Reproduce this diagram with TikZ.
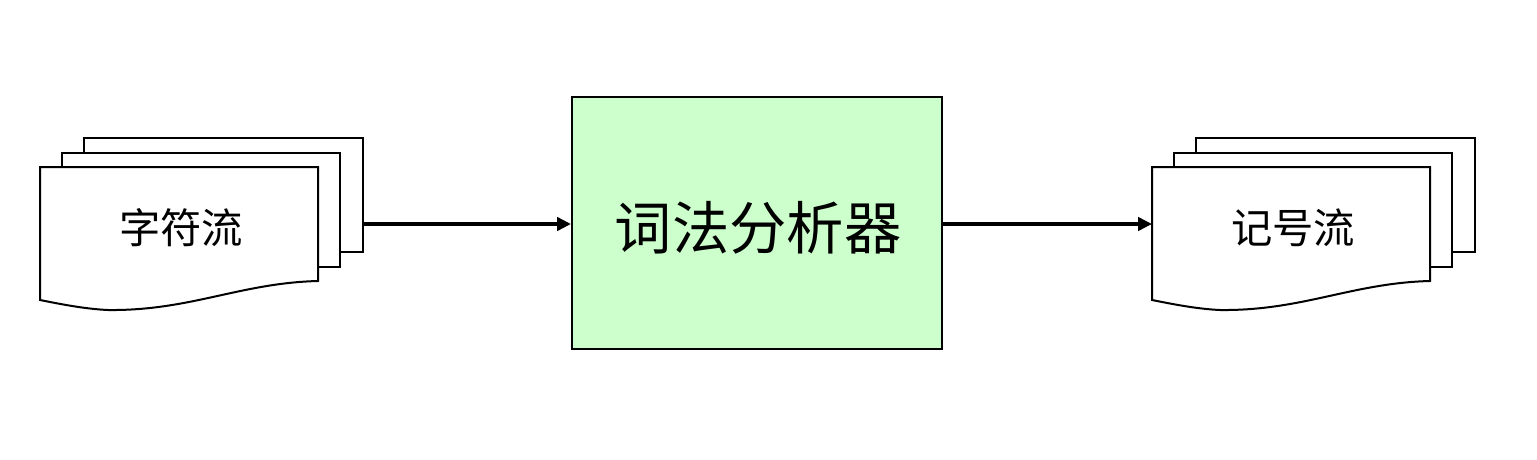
\documentclass[tikz,border=0pt]{standalone}
\usepackage{fontspec}
\newfontfamily\cjk{Noto Sans CJK SC}
\usetikzlibrary{arrows.meta}
\definecolor{lexgreen}{HTML}{CCFFCC}
\tikzset{
  page/.style={draw=black, fill=white, line width=1.5pt, line join=miter},
  lexbox/.style={draw=black, fill=lexgreen, line width=1.5pt, inner sep=0pt},
  flow/.style={line width=3pt, -{Triangle[length=10.5pt,width=10pt]}},
  doclabel/.style={font=\cjk\fontsize{31}{36}\selectfont, inner sep=0pt},
  pics/docstack/.style={code={
    \draw[page] (44,-29) rectangle (323,85);
    \draw[page] (22,-14) rectangle (300,100);
    \draw[page] (0,0) -- (278,0) -- (278,114)
      .. controls (200,116) and (150,144) .. (68,143)
      .. controls (45,142) and (20,137) .. (0,133) -- cycle;
  }}
}
\begin{document}
\begin{tikzpicture}[x=0.75pt,y=-0.75pt]
\useasboundingbox (0,0) rectangle (1537,460);
\pic at (40,167) {docstack};
\pic at (1152,167) {docstack};
\node[doclabel] (src) at (181,228) {字符流};
\node[doclabel] (dst) at (1293,228) {记号流};
\node[lexbox, minimum width=277.5pt, minimum height=189pt] (lex) at (757,223) {};
\node[inner sep=0pt, font=\cjk\fontsize{43}{50}\selectfont] (lextext) at (758,228) {词法分析器};
\coordinate (srcR) at (363,224);
\coordinate (dstL) at (1152,224);
\draw[flow] (srcR) -- (srcR -| lex.west);
\draw[flow] (dstL -| lex.east) -- (dstL);
\end{tikzpicture}
\end{document}
